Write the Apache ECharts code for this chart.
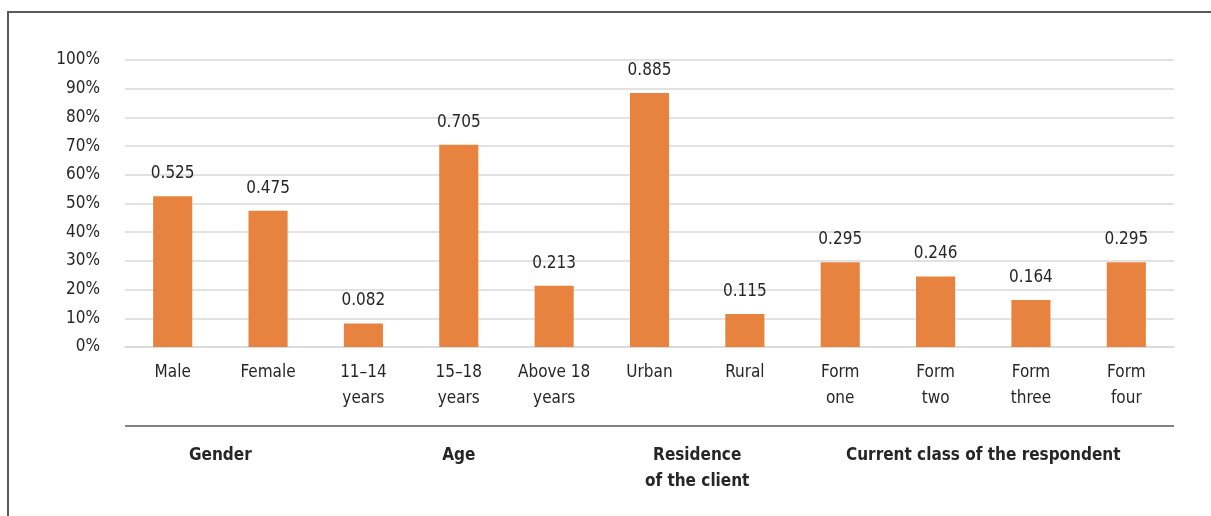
<!DOCTYPE html>
<html>
<head>
<meta charset="utf-8">
<script src="https://cdn.jsdelivr.net/npm/echarts@6/dist/echarts.min.js"></script>
<style>
  html, body { margin: 0; padding: 0; background: #fff; }
  #chart { width: 1211px; height: 516px; }
</style>
</head>
<body>
<div id="chart"></div>
<script>
const categories = ['Male', 'Female', '11–14\nyears', '15–18\nyears', 'Above 18\nyears', 'Urban', 'Rural', 'Form\none', 'Form\ntwo', 'Form\nthree', 'Form\nfour']
const values = [0.525, 0.475, 0.082, 0.705, 0.213, 0.885, 0.115, 0.295, 0.246, 0.164, 0.295]
// groups: label, first and last category index
const groupNames = ['Gender', 'Age', 'Residence\nof the client', 'Current class of the respondent']
const groupStart = [0, 2, 5, 7]
const groupEnd = [1, 4, 6, 10]
const yTicks = [0, 0.1, 0.2, 0.3, 0.4, 0.5, 0.6, 0.7, 0.8, 0.9, 1]

const font = "'Liberation Sans Narrow', 'DejaVu Sans Condensed', Roboto, sans-serif"
const chart = echarts.init(document.getElementById('chart'))

chart.setOption({
  animation: false,
  grid: { left: 125, right: 37, top: 60, bottom: 169 },
  xAxis: {
    type: 'category',
    data: categories,
    axisTick: { show: false },
    axisLine: { lineStyle: { color: '#d9d9d9', width: 1.5 } },
    axisLabel: {
      interval: 0,
      margin: 13,
      fontFamily: font,
      fontSize: 17,
      lineHeight: 26,
      color: '#262626'
    }
  },
  yAxis: {
    type: 'value',
    min: yTicks[0],
    max: yTicks[yTicks.length - 1],
    interval: 0.1,
    axisLine: { show: false },
    axisTick: { show: false },
    splitLine: { lineStyle: { color: '#d9d9d9', width: 1.5 } },
    axisLabel: {
      margin: 25,
      fontFamily: font,
      fontSize: 17,
      color: '#262626',
      formatter: (v) => Math.round(v * 100) + '%'
    }
  },
  series: [{
    type: 'bar',
    data: values,
    barWidth: '41%',
    itemStyle: { color: '#e8833f' },
    label: {
      show: true,
      position: 'top',
      distance: 14,
      fontFamily: font,
      fontSize: 17,
      color: '#262626',
      formatter: (p) => p.value.toFixed(3)
    }
  }]
})

// frame, separator line and group labels placed from the category axis
const x0 = 125
const x1 = 1211 - 37
const elements = [
  {
    type: 'rect',
    shape: { x: 8, y: 12, width: 1400, height: 700 },
    style: { fill: 'none', stroke: '#5a5a5a', lineWidth: 2 }
  },
  {
    type: 'line',
    shape: { x1: x0, y1: 426, x2: x1, y2: 426 },
    style: { stroke: '#595959', lineWidth: 1.5 }
  }
]
groupNames.forEach((name, i) => {
  const a = chart.convertToPixel({ xAxisIndex: 0 }, groupStart[i])
  const b = chart.convertToPixel({ xAxisIndex: 0 }, groupEnd[i])
  elements.push({
    type: 'text',
    x: (a + b) / 2,
    y: 443,
    style: {
      text: name,
      align: 'center',
      verticalAlign: 'top',
      font: "bold 17px " + font,
      lineHeight: 26,
      fill: '#262626'
    }
  })
})
chart.setOption({ graphic: elements })
</script>
</body>
</html>
